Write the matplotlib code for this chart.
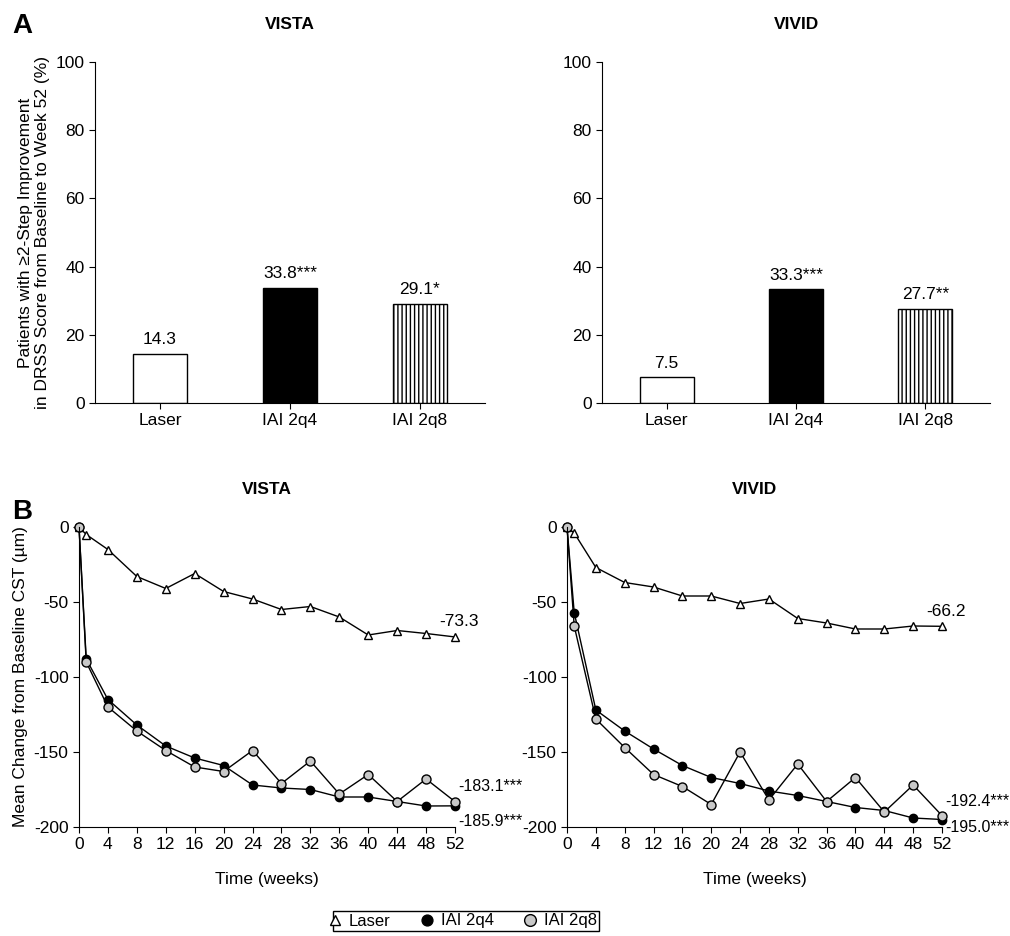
import matplotlib
import matplotlib.pyplot as plt
import numpy as np

matplotlib.use('Agg')
plt.rcParams['font.family'] = ['Liberation Sans', 'DejaVu Sans']
plt.rcParams['axes.unicode_minus'] = False
plt.rcParams['hatch.linewidth'] = 1.0

groups = ['Laser', 'IAI 2q4', 'IAI 2q8']
vista_bar = [14.3, 33.8, 29.1]
vista_bar_lbl = ['14.3', '33.8***', '29.1*']
vivid_bar = [7.5, 33.3, 27.7]
vivid_bar_lbl = ['7.5', '33.3***', '27.7**']

weeks = [0, 1, 4, 8, 12, 16, 20, 24, 28, 32, 36, 40, 44, 48, 52]
vista_laser = [0, -5, -15, -33, -41, -31, -43, -48, -55, -53, -60, -72, -69, -71, -73.3]
vista_2q4 = [0, -88, -115, -132, -146, -154, -159, -172, -174, -175, -180, -180, -183, -186, -185.9]
vista_2q8 = [0, -90, -120, -136, -149, -160, -163, -149, -171, -156, -178, -165, -183, -168, -183.1]
vivid_laser = [0, -4, -27, -37, -40, -46, -46, -51, -48, -61, -64, -68, -68, -66, -66.2]
vivid_2q4 = [0, -57, -122, -136, -148, -159, -167, -171, -176, -179, -183, -187, -189, -194, -195.0]
vivid_2q8 = [0, -66, -128, -147, -165, -173, -185, -150, -182, -158, -183, -167, -190, -172, -192.4]

fig = plt.figure(figsize=(10.1, 9.36), dpi=100)
W, H = 1010, 936
FS = 12.5


def px_axes(x0, y0, x1, y1):
    return fig.add_axes([x0 / W, 1 - y1 / H, (x1 - x0) / W, (y1 - y0) / H])


def style(ax):
    for s in ['top', 'right']:
        ax.spines[s].set_visible(False)
    ax.tick_params(labelsize=FS, length=4)


def bars(ax, vals, lbls, title, ylabel=None):
    x = np.arange(len(groups))
    ax.bar(x[0], vals[0], 0.42, color='white', edgecolor='black', linewidth=1)
    ax.bar(x[1], vals[1], 0.42, color='black', edgecolor='black', linewidth=1)
    ax.bar(x[2], vals[2], 0.42, color='white', edgecolor='black', linewidth=1, hatch='||||')
    for xi, v, l in zip(x, vals, lbls):
        ax.text(xi, v + 2, l, ha='center', va='bottom', fontsize=FS)
    ax.set_xlim(-0.5, 2.5)
    ax.set_ylim(0, 100)
    ax.set_yticks(range(0, 101, 20))
    ax.set_xticks(x)
    ax.set_xticklabels(groups)
    ax.set_title(title, fontsize=FS, fontweight='bold', pad=24)
    if ylabel:
        ax.set_ylabel(ylabel, fontsize=FS)
    style(ax)


def lines(ax, laser, q4, q8, title, lab_l, lab_4, lab_8, ylabel=None):
    ax.plot(weeks, laser, color='black', lw=1, marker='^', ms=6, mfc='white', mec='black', label='Laser')
    ax.plot(weeks, q4, color='black', lw=1, marker='o', ms=6, mfc='black', mec='black', label='IAI 2q4')
    ax.plot(weeks, q8, color='black', lw=1, marker='o', ms=6.5, mfc='#c8c8c8', mec='black', label='IAI 2q8')
    ax.set_xlim(0, 52)
    ax.set_ylim(-200, 0)
    ax.set_xticks(range(0, 53, 4))
    ax.set_yticks(range(-200, 1, 50))
    ax.set_xlabel('Time (weeks)', fontsize=FS, labelpad=14)
    ax.set_title(title, fontsize=FS, fontweight='bold', pad=24)
    if ylabel:
        ax.set_ylabel(ylabel, fontsize=FS)
    ax.text(52.5, laser[-1] + 5, lab_l[0], ha='center', va='bottom', fontsize=FS)
    ax.text(52.5, lab_4[1], lab_4[0], ha='left', va='center', fontsize=11.5)
    ax.text(52.5, lab_8[1], lab_8[0], ha='left', va='center', fontsize=11.5)
    for ln in ax.lines:
        ln.set_clip_on(False)
    style(ax)


ax1 = px_axes(95, 62, 485, 403)
bars(ax1, vista_bar, vista_bar_lbl, 'VISTA',
     'Patients with \u22652-Step Improvement\nin DRSS Score from Baseline to Week 52 (%)')
ax2 = px_axes(602, 62, 990, 403)
bars(ax2, vivid_bar, vivid_bar_lbl, 'VIVID')

ax3 = px_axes(79, 527, 455, 827)
lines(ax3, vista_laser, vista_2q4, vista_2q8, 'VISTA', ['-73.3'],
      ['-185.9***', -196], ['-183.1***', -173], 'Mean Change from Baseline CST (\u00b5m)')
ax4 = px_axes(567, 527, 942, 827)
lines(ax4, vivid_laser, vivid_2q4, vivid_2q8, 'VIVID', ['-66.2'],
      ['-195.0***', -200], ['-192.4***', -183])

fig.text(0.012, 0.965, 'A', fontsize=20, fontweight='bold')
fig.text(0.012, 0.445, 'B', fontsize=20, fontweight='bold')

h, l = ax3.get_legend_handles_labels()
fig.legend(h, l, loc='center', bbox_to_anchor=(466 / W, 1 - 921 / H), ncol=3, frameon=True,
           fontsize=12, fancybox=False, edgecolor='black', handlelength=0, handletextpad=0.8,
           columnspacing=2.2, borderpad=0.15, framealpha=1, markerscale=1.3)

fig.savefig('out.png', dpi=100)
